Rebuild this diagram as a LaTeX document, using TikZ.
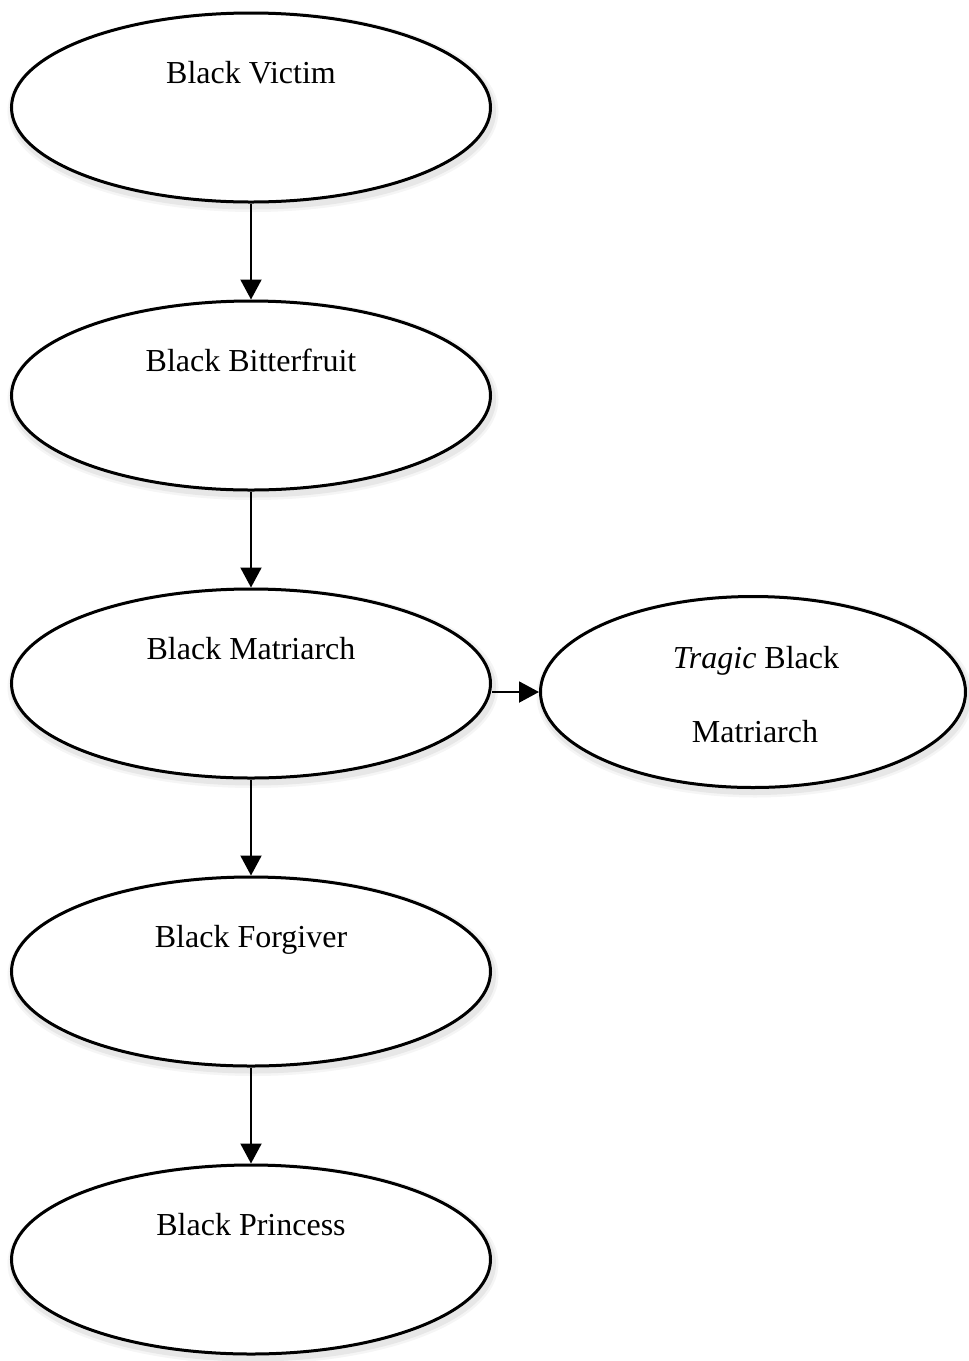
\documentclass[tikz,border=0pt]{standalone}
\usepackage{fontspec}
\setmainfont{Liberation Serif}
\usetikzlibrary{arrows.meta,shapes.geometric}
\begin{document}
\begin{tikzpicture}[x=1pt,y=-1pt,
  oval/.style={ellipse, draw=black, line width=3pt, fill=white, inner sep=0pt,
    minimum width=479pt, minimum height=189pt,
    preaction={draw=black, draw opacity=0.04, line width=12pt, transform canvas={shift={(2pt,-4pt)}}},
    preaction={draw=black, draw opacity=0.06, line width=7pt, transform canvas={shift={(2pt,-4pt)}}}},
  lbl/.style={font=\fontsize{32}{32}\selectfont, inner sep=0pt, anchor=base},
  arr/.style={line width=2pt, -{Triangle[length=20pt,width=21pt]}}]
\useasboundingbox (0,0) rectangle (969,1361);
\node[oval] (v1) at (251,107.5) {};
\node[oval] (v2) at (251,395.5) {};
\node[oval] (v3) at (251,683.5) {};
\node[oval] (v4) at (251,971.5) {};
\node[oval] (v5) at (251,1259.5) {};
\node[oval, minimum width=425pt, minimum height=191pt] (t) at (753,692) {};
\node[lbl] (l1) at ([yshift=24.5pt]v1.center) {Black Victim};
\node[lbl] (l2) at ([yshift=24.5pt]v2.center) {Black Bitterfruit};
\node[lbl] (l3) at ([yshift=24.5pt]v3.center) {Black Matriarch};
\node[lbl] (l4) at ([yshift=24.5pt]v4.center) {Black Forgiver};
\node[lbl] (l5) at ([yshift=24.5pt]v5.center) {Black Princess};
\node[lbl] (t1) at ([xshift=3pt,yshift=24pt]t.center) {\textit{Tragic} Black};
\node[lbl] (t2) at ([xshift=2pt,yshift=-50pt]t.center) {Matriarch};
\draw[arr] (v1.south) -- (v2.north);
\draw[arr] (v2.south) -- (v3.north);
\draw[arr] (v3.south) -- (v4.north);
\draw[arr] (v4.south) -- (v5.north);
\draw[arr] (v3.east |- t.west) -- (t.west);
\end{tikzpicture}
\end{document}
